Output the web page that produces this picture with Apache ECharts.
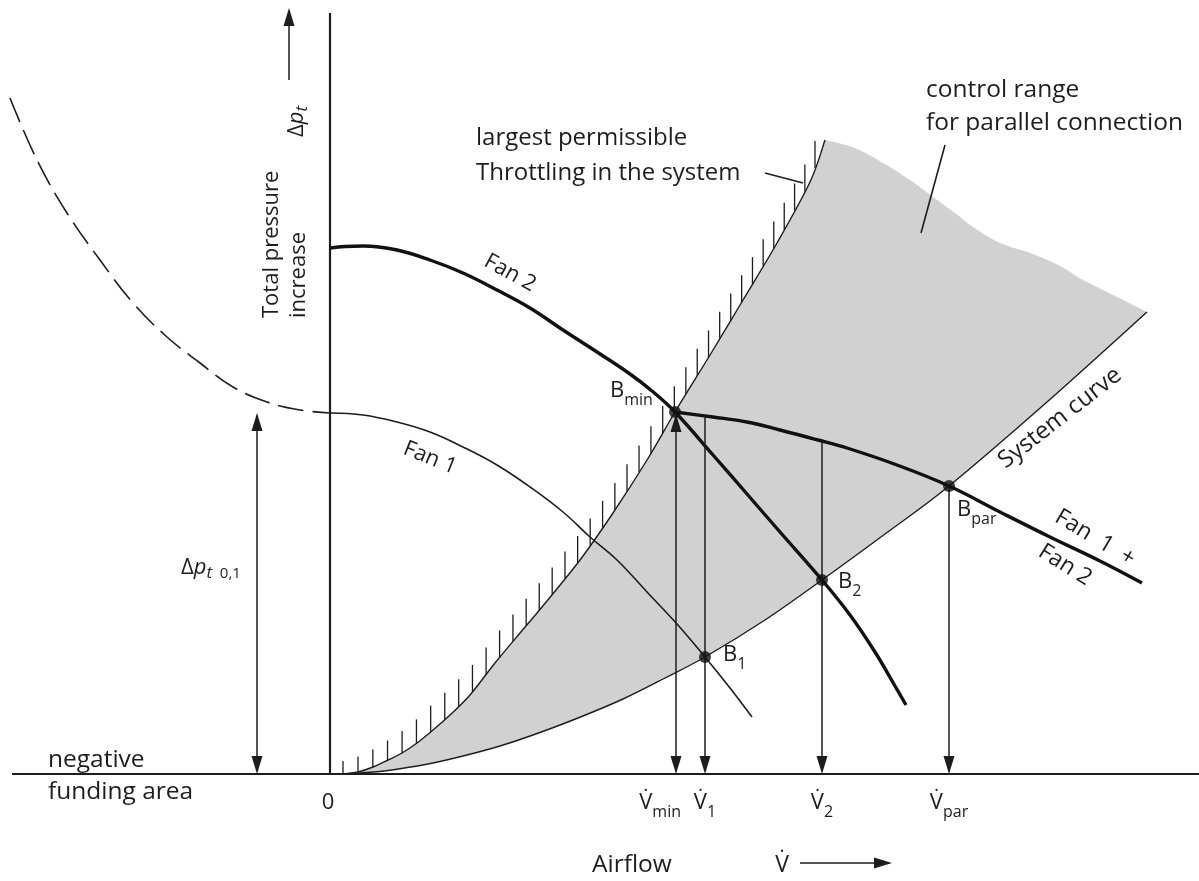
<!DOCTYPE html>
<html>
<head>
<meta charset="utf-8">
<title>Parallel fan operation – control range</title>
<script src="https://cdn.jsdelivr.net/npm/echarts@6/dist/echarts.min.js"></script>
<style>
  html, body { margin: 0; padding: 0; background: #ffffff; }
  #chart { width: 1199px; height: 881px; }
</style>
</head>
<body>
<div id="chart"></div>
<script>
// Airflow V̇ (x) against total pressure increase Δp_t (y), in arbitrary chart units.

// Fan 1 characteristic: unstable (negative delivery) branch, drawn dashed
const fan1Stall = [[-32,67.6],[-29.3,61.4],[-26.3,56.1],[-23,51.4],[-19.7,47.1],[-16.3,43.7],[-13,41.1],[-9.7,38.7],[-6.3,37.2],[-3,36.4],[0,36.1]];
// Fan 1 characteristic, stable branch
const fan1 = [[0,36.1],[3.3,35.9],[6.7,35.2],[10,34.2],[13.3,32.7],[16.7,30.9],[20,28.7],[23.3,26.2],[26,23.7],[28.7,21.4],[31.7,18.2],[34.7,15],[37.5,11.7],[40,8.6],[42.2,5.7]];
// Fan 2 characteristic
const fan2 = [[0,52.6],[1.5,52.75],[3.3,52.8],[6.7,52.4],[10,51.4],[13.3,50.1],[16.7,48.4],[20,46.6],[23.3,44.4],[26.7,42.2],[30,40],[32.2,38.3],[34.5,36.2],[38.3,31.9],[41.7,28],[45,24.2],[49.2,19.4],[52,15.9],[54.5,12.2],[56.5,8.8],[57.6,6.9]];
// Fan 1 + Fan 2 in parallel
const fanParallel = [[34.5,36.2],[38.3,35.7],[41.7,35.2],[45,34.4],[48.8,33.4],[51.7,32.6],[56.7,30.9],[61.9,28.8],[67,26.2],[72,23.7],[77,21.3],[81.2,19.1]];
// System curve
const systemCurve = [[0.8,0],[4,0.17],[7,0.53],[10.3,1.1],[13.7,1.9],[17,2.8],[20.3,3.9],[24.8,5.6],[29.3,7.5],[33.5,9.6],[37.5,11.7],[43.5,15.4],[49.2,19.4],[55.5,24],[61.9,28.8],[71.7,37.2],[81.7,46.2]];
// Largest permissible throttling of the system
const throttleLimit = [[1.5,0],[2.8,0.2],[4.3,0.7],[5.8,1.4],[7.2,2.1],[8.7,3.1],[10.3,4.4],[12,5.9],[14,7.9],[16.5,11.1],[19,14.1],[21.2,16.7],[25,21.4],[28.3,26.1],[31.7,31.4],[34.5,36.2],[38,41.9],[41.3,47.4],[44.7,53.1],[48,59.2],[49.5,63.4]];
// Upper edge of the control range
const controlRangeTop = [[49.5,63.4],[52.5,62.6],[55.3,61.1],[58,59.4],[60.3,57.7],[62.5,56.1],[64.3,54.7],[67,53.1],[70.3,52],[73,50.8],[75.3,49.4],[78.5,47.8],[81.7,46.2]];

// Operating points B
const pointNames = ['min', '1', '2', 'par'];
const pointX = [34.5, 37.5, 49.2, 61.9];
const pointY = [36.2, 11.7, 19.4, 28.8];

const flowNames = ['min', '1', '2', 'par'];
const flowX = [34.6, 37.5, 49.2, 61.9];
const flowTop = [36.0, 35.8, 33.3, 28.8];

// Shut-off pressure of fan 1
const dp01X = -7.3;
const dp01Value = 36.1;

// ---------------------------------------------------------------------
const INK = '#1d1d1d';
const FAMILY = '"Open Sans", "Noto Sans", "DejaVu Sans", sans-serif';
const F = (size, style) => (style ? style + ' ' : '') + size + 'px ' + FAMILY;

const RICH = {
  m:  { font: F(22), lineHeight: 28 },
  i:  { font: F(22, 'italic'), lineHeight: 28 },
  s:  { font: F(16), lineHeight: 28, padding: [18, 0, 0, 0] },
  si: { font: F(17, 'italic'), lineHeight: 28, padding: [10, 0, 0, 0] },
  s2: { font: F(15), lineHeight: 28, padding: [12, 0, 0, 0] }
};

// Catmull-Rom spline through pixel points, as SVG path commands
function splinePath(pts, cmd) {
  let d = cmd + pts[0][0] + ',' + pts[0][1];
  for (let k = 0; k < pts.length - 1; k++) {
    const p0 = pts[k - 1] || pts[k], p1 = pts[k], p2 = pts[k + 1], p3 = pts[k + 2] || p2;
    const c1 = [p1[0] + (p2[0] - p0[0]) / 6, p1[1] + (p2[1] - p0[1]) / 6];
    const c2 = [p2[0] - (p3[0] - p1[0]) / 6, p2[1] - (p3[1] - p1[1]) / 6];
    d += 'C' + c1[0] + ',' + c1[1] + ',' + c2[0] + ',' + c2[1] + ',' + p2[0] + ',' + p2[1];
  }
  return d;
}

// y of a polyline (pixel points, x ascending) at pixel x
function yAt(pts, x) {
  if (x <= pts[0][0]) return pts[0][1];
  for (let k = 1; k < pts.length; k++) {
    if (x <= pts[k][0]) {
      const t = (x - pts[k - 1][0]) / (pts[k][0] - pts[k - 1][0]);
      return pts[k - 1][1] + t * (pts[k][1] - pts[k - 1][1]);
    }
  }
  return pts[pts.length - 1][1];
}

function renderControlRange(params, api) {
  const T = throttleLimit.map(p => api.coord(p));
  const top = controlRangeTop.map(p => api.coord(p));
  const S = systemCurve.map(p => api.coord(p));
  const area = splinePath(T, 'M') + splinePath(top, 'L') + splinePath(S.slice().reverse(), 'L') + 'Z';
  const children = [
    { type: 'path', shape: { pathData: area }, style: { fill: '#d1d1d1', stroke: null } },
    { type: 'path', shape: { pathData: splinePath(S, 'M') }, style: { fill: null, stroke: INK, lineWidth: 1.4 } },
    { type: 'path', shape: { pathData: splinePath(T, 'M') }, style: { fill: null, stroke: INK, lineWidth: 1.4 } }
  ];
  // hatching on the throttle limit
  const x0 = T[0][0] - 2, x1 = T[T.length - 1][0] - 6;
  let x = x0;
  while (x <= x1 + 0.5) {
    const yb = yAt(T, x);
    const len = Math.min(27, 13 + (x - x0) * 0.15);
    children.push({ type: 'line', shape: { x1: x, y1: yb, x2: x, y2: yb - len }, style: { stroke: INK, lineWidth: 1.3 } });
    x += 15 - 5 * (x - x0) / (x1 - x0);
  }
  return { type: 'group', children };
}

function arrowHead(tip, dir, len, half) {
  const bx = tip[0] - dir[0] * len, by = tip[1] - dir[1] * len;
  return {
    type: 'polygon',
    shape: { points: [tip, [bx - dir[1] * half, by + dir[0] * half], [bx + dir[1] * half, by - dir[0] * half]] },
    style: { fill: INK, stroke: null }
  };
}

// arrows: [x1, y1, x2, y2, headAtStart, headAtEnd]
function buildArrows() {
  const list = [];
  for (let k = 0; k < flowX.length; k++) {
    list.push([flowX[k], flowTop[k], flowX[k], 0, k === 0, true]);
  }
  list.push([dp01X, 0, dp01X, dp01Value, true, true]);
  list.push([-4.1, 69.4, -4.1, 76.6, false, true]);   // Δp_t direction
  list.push([47, -8.9, 56.2, -8.9, false, true]);     // V̇ direction
  return list;
}
const arrows = buildArrows();

function renderArrows(params, api) {
  const children = [];
  arrows.forEach(a => {
    const p1 = api.coord([a[0], a[1]]), p2 = api.coord([a[2], a[3]]);
    const dx = p2[0] - p1[0], dy = p2[1] - p1[1];
    const L = Math.hypot(dx, dy), d = [dx / L, dy / L];
    const HL = 18, HW = 5.5;
    const s = a[4] ? [p1[0] + d[0] * HL * 0.7, p1[1] + d[1] * HL * 0.7] : p1;
    const e = a[5] ? [p2[0] - d[0] * HL * 0.7, p2[1] - d[1] * HL * 0.7] : p2;
    children.push({ type: 'line', shape: { x1: s[0], y1: s[1], x2: e[0], y2: e[1] }, style: { stroke: INK, lineWidth: 1.5 } });
    if (a[5]) children.push(arrowHead(p2, d, HL, HW));
    if (a[4]) children.push(arrowHead(p1, [-d[0], -d[1]], HL, HW));
  });
  // leader lines of the two callouts
  [[[43.5, 60.1], [47.3, 59.1]], [[61.5, 62.9], [59.1, 54.1]]].forEach(seg => {
    const a = api.coord(seg[0]), b = api.coord(seg[1]);
    children.push({ type: 'line', shape: { x1: a[0], y1: a[1], x2: b[0], y2: b[1] }, style: { stroke: INK, lineWidth: 1.6 } });
  });
  return { type: 'group', children };
}

function label(api, at, text, o) {
  o = o || {};
  const p = api.coord(at);
  return {
    type: 'text', x: p[0], y: p[1], rotation: o.rot || 0,
    style: {
      text: text, fill: INK, font: F(o.size || 22),
      align: o.align || 'left', verticalAlign: o.valign || 'middle',
      rich: RICH
    }
  };
}

function renderLabels(params, api) {
  const c = [];
  c.push(label(api, [-5.8, 45.6], 'Total pressure', { rot: Math.PI / 2 }));
  c.push(label(api, [-3.1, 45.6], 'increase', { rot: Math.PI / 2 }));
  c.push(label(api, [-3.3, 63.7], '{m|Δ}{i|p}{si|t}', { rot: Math.PI / 2 }));
  c.push(label(api, [18, 50.1], 'Fan 2', { rot: -0.5, align: 'center' }));
  c.push(label(api, [10, 31.6], 'Fan 1', { rot: -0.38, align: 'center' }));
  c.push(label(api, [73, 35.6], 'System curve', { rot: 0.66, align: 'center', size: 24 }));
  c.push(label(api, [76.5, 23.6], 'Fan  1  +', { rot: -0.54, align: 'center', size: 23 }));
  c.push(label(api, [73.5, 20.9], 'Fan 2', { rot: -0.56, align: 'center', size: 23 }));
  c.push(label(api, [14.6, 63.6], 'largest permissible', { size: 24 }));
  c.push(label(api, [14.6, 60.1], 'Throttling in the system', { size: 24 }));
  c.push(label(api, [59.6, 68.4], 'control range', { size: 24.5 }));
  c.push(label(api, [59.6, 65.1], 'for parallel connection', { size: 24.5 }));
  c.push(label(api, [-28.2, 1.4], 'negative', { size: 24.5 }));
  c.push(label(api, [-28.2, -1.8], 'funding area', { size: 24.5 }));
  c.push(label(api, [-0.2, -2.9], '0', { align: 'center' }));
  c.push(label(api, [26.2, -9.1], 'Airflow', { size: 24.5 }));
  c.push(label(api, [45.2, -9.1], 'V\u0307', { align: 'center', size: 23 }));
  c.push(label(api, [dp01X - 7.6, 20.6], '{m|Δ}{i|p}{si|t}{s2|  0,1}'));
  // operating point names
  const bOff = [[-6.5, 2.1], [1.8, 0.2], [1.6, -0.2], [0.8, -2.4]];
  pointNames.forEach((n, k) => {
    c.push(label(api, [pointX[k] + bOff[k][0], pointY[k] + bOff[k][1]], '{m|B}{s|' + n + '}'));
  });
  // airflow names under the axis
  flowNames.forEach((n, k) => {
    const first = k === 0;
    c.push(label(api, [flowX[k] + (first ? 0.5 : 0), -2.9], '{m|V\u0307}{s|' + n + '}', { align: first ? 'right' : 'center' }));
  });
  return { type: 'group', children: c };
}

const chart = echarts.init(document.getElementById('chart'));
chart.setOption({
  animation: false,
  backgroundColor: '#ffffff',
  grid: { left: 0, right: 0, top: 0, bottom: 0, containLabel: false },
  xAxis: { type: 'value', min: -33, max: 86.9, show: false },
  yAxis: { type: 'value', min: -10.7, max: 77.4, show: false },
  series: [
    { type: 'custom', name: 'control range', renderItem: renderControlRange, data: [[0, 0]], z: 1, silent: true },
    { type: 'line', name: 'axis V', data: [[-31.8, 0], [86.9, 0]], showSymbol: false, lineStyle: { color: INK, width: 2.2 }, z: 2, silent: true },
    { type: 'line', name: 'axis p', data: [[0, 0], [0, 76.1]], showSymbol: false, lineStyle: { color: INK, width: 2.2 }, z: 2, silent: true },
    { type: 'line', name: 'Fan 1 unstable', data: fan1Stall, smooth: 0.4, showSymbol: false, lineStyle: { color: INK, width: 1.6, type: [26, 9] }, z: 3, silent: true },
    { type: 'line', name: 'Fan 1', data: fan1, smooth: 0.4, showSymbol: false, lineStyle: { color: INK, width: 1.6 }, z: 3, silent: true },
    { type: 'line', name: 'Fan 2', data: fan2, smooth: 0.4, showSymbol: false, lineStyle: { color: '#111', width: 3.4 }, z: 3, silent: true },
    { type: 'line', name: 'Fan 1 + Fan 2', data: fanParallel, smooth: 0.4, showSymbol: false, lineStyle: { color: '#111', width: 3.4 }, z: 3, silent: true },
    { type: 'custom', name: 'arrows', renderItem: renderArrows, data: [[0, 0]], z: 4, silent: true },
    { type: 'scatter', name: 'operating points', data: pointX.map((x, k) => [x, pointY[k]]), symbolSize: 12, itemStyle: { color: '#111' }, z: 5, silent: true },
    { type: 'custom', name: 'labels', renderItem: renderLabels, data: [[0, 0]], z: 6, silent: true }
  ]
});
</script>
</body>
</html>
